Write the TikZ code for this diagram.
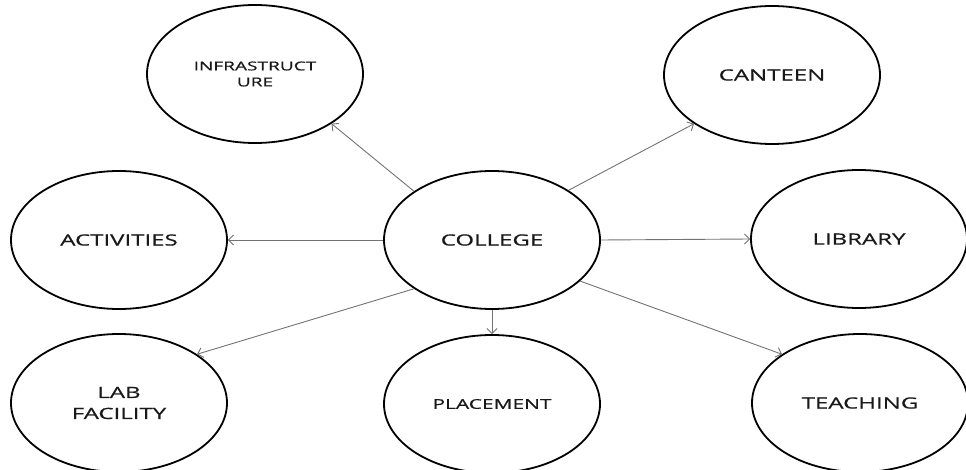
\documentclass[tikz,border=0pt]{standalone}
\usepackage{fontspec}
\setmainfont{Open Sans}[FakeStretch=1.55,FakeBold=0.6]
\usetikzlibrary{shapes.geometric,arrows.meta}
\begin{document}
\begin{tikzpicture}[x=1pt,y=-1pt,
  topic/.style={ellipse, draw=black, line width=1.8pt, minimum width=216pt,
    minimum height=138pt, inner sep=0pt, align=center,
    font=\fontsize{15.5}{21}\selectfont, text=black!90},
  small/.style={font=\fontsize{12.3}{16}\selectfont},
  link/.style={draw=black!55, line width=0.9pt,
    -{Straight Barb[length=5pt,width=10pt]}}]
  \useasboundingbox (0,0) rectangle (966,470);
  % central concept
  \node[topic] (college) at (492,240) {COLLEGE};
  % surrounding facilities
  \node[topic, small] (infra) at (255,74) {INFRASTRUCT\\URE};
  \node[topic] (canteen) at (772,75) {CANTEEN};
  \node[topic] (activities) at (119,240) {ACTIVITIES};
  \node[topic] (library) at (859,239) {LIBRARY};
  \node[topic] (lab) at (119,403) {LAB\\FACILITY};
  \node[topic, font=\fontsize{13.5}{18}\selectfont] (placement) at (492,404) {PLACEMENT};
  \node[topic] (teaching) at (860,403) {TEACHING};
  % connectors
  \draw[link] (college.148) -- (infra.-33);
  \draw[link] (college.33) -- (canteen.212);
  \draw[link] (college.west) -- (activities.east);
  \draw[link] (college.east) -- (library.west);
  \draw[link] (college.212) -- (lab.32);
  \draw[link] (college.south) -- (placement.north);
  \draw[link] (college.-25) -- (teaching.148);
\end{tikzpicture}
\end{document}
